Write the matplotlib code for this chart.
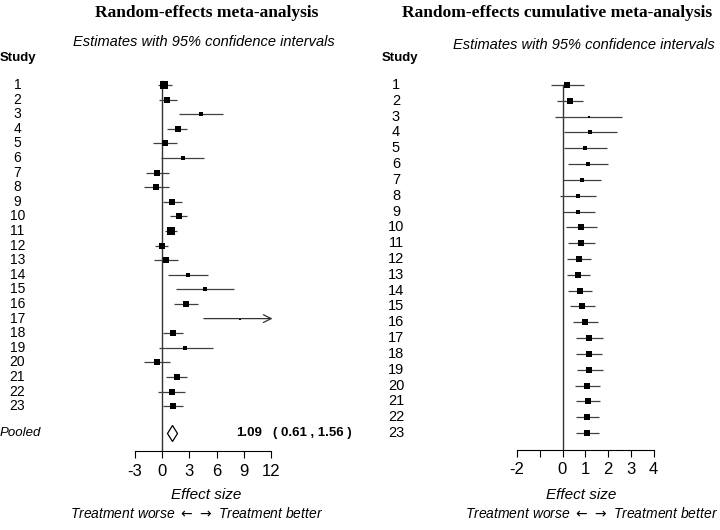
import numpy as np
import matplotlib
matplotlib.use("Agg")
import matplotlib.pyplot as plt

plt.rcParams['font.family'] = ['Liberation Sans', 'DejaVu Sans']
plt.rcParams['axes.unicode_minus'] = False

# per-study estimates (random-effects meta-analysis)
studies = [str(i) for i in range(1, 24)]
est = [0.25, 0.58, 4.3, 1.72, 0.33, 2.27, -0.51, -0.62, 1.1, 1.83, 0.95, -0.04,
       0.4, 2.9, 4.76, 2.67, 8.57, 1.17, 2.56, -0.59, 1.6, 1.06, 1.17]
lo = [-0.4, -0.3, 1.9, 0.58, -1.0, -0.07, -1.76, -2.0, 0.1, 0.92, 0.37, -0.77,
      -0.88, 0.7, 1.57, 1.35, 4.6, 0.1, -0.37, -1.94, 0.44, -0.4, 0.1]
hi = [1.06, 1.6, 6.7, 2.8, 1.6, 4.6, 0.73, 0.77, 2.2, 2.8, 1.68, 0.7,
      1.8, 5.1, 7.95, 4.0, 12.6, 2.27, 5.57, 0.84, 2.8, 2.5, 2.27]
box = [5.5, 5, 3, 5, 4.5, 3, 5, 5, 5, 5, 5.5, 4.5, 5, 3, 2.5, 5, 2, 5, 2.5, 5, 5, 5, 5]
pooled = 1.09
pooled_lo = 0.61
pooled_hi = 1.56

# cumulative meta-analysis
cum_est = [0.2, 0.32, 1.15, 1.22, 0.99, 1.1, 0.86, 0.67, 0.69, 0.81, 0.81, 0.71,
           0.68, 0.77, 0.87, 1.0, 1.18, 1.15, 1.18, 1.09, 1.1, 1.09, 1.09]
cum_lo = [-0.52, -0.26, -0.33, 0.08, 0.07, 0.23, 0.01, -0.12, 0.01, 0.17, 0.25, 0.18,
          0.2, 0.25, 0.34, 0.46, 0.58, 0.59, 0.64, 0.55, 0.59, 0.59, 0.61]
cum_hi = [0.93, 0.89, 2.61, 2.39, 1.94, 2.0, 1.69, 1.47, 1.41, 1.51, 1.41, 1.26,
          1.21, 1.29, 1.43, 1.54, 1.79, 1.73, 1.76, 1.64, 1.64, 1.6, 1.59]
cum_box = [4, 5, 2, 2.5, 3, 3, 3.5, 3.5, 3.5, 4.5, 4.5, 5, 5, 5, 5, 5, 5, 5, 5, 5, 5, 5, 5]

left_ticks = [-3, 0, 3, 6, 9, 12]
right_ticks = [-2, -1, 0, 1, 2, 3, 4]
right_ticklabels = ['-2', '', '0', '1', '2', '3', '4']

W, H = 720, 530
fig = plt.figure(figsize=(7.2, 5.3), dpi=100)


def ftext(x, y, s, **kw):
    fig.text(x / W, 1 - y / H, s, **kw)


def make_axes(x0, x1, ytop, ybot, zero_px, px_per_unit, row1_px, row_px):
    ax = fig.add_axes([x0 / W, 1 - ybot / H, (x1 - x0) / W, (ybot - ytop) / H])
    ax.set_xlim((x0 - zero_px) / px_per_unit, (x1 - zero_px) / px_per_unit)
    ax.set_ylim(1 + (ybot - row1_px) / row_px, 1 - (row1_px - ytop) / row_px)
    for s in ['top', 'right', 'left']:
        ax.spines[s].set_visible(False)
    ax.set_yticks([])
    ax.tick_params(axis='x', length=5, width=0.8, pad=4, labelsize=12)
    return ax


def draw_rows(ax, e, l, h, sz, xmax):
    y = np.arange(1, len(e) + 1)
    for yi, ei, li, hi_, si in zip(y, e, l, h, sz):
        if hi_ > xmax:
            ax.annotate('', xy=(xmax + 0.15, yi), xytext=(li, yi),
                        arrowprops=dict(arrowstyle='->', color='#333333', lw=0.9,
                                        mutation_scale=14, shrinkA=0, shrinkB=0))
        else:
            ax.plot([li, hi_], [yi, yi], color='#404040', lw=0.9, solid_capstyle='butt')
        ax.plot(ei, yi, marker='s', color='black', ms=si * 0.95, mew=0)


# left panel
axl = make_axes(0, 355, 70, 451, 162, 9.1, 85, 14.6)
axl.axvline(0, ymin=0, ymax=0.97, color='#333333', lw=1)
draw_rows(axl, est, lo, hi, box, max(left_ticks))
pooled_y = 24.85
axl.plot(pooled, pooled_y, marker='d', ms=8.5, mfc='white', mec='black', mew=0.9)
axl.set_xticks(left_ticks)
axl.spines['bottom'].set_bounds(left_ticks[0], left_ticks[-1])

# right panel
axr = make_axes(360, 720, 70, 450, 562.5, 22.8, 85, 15.82)
axr.axvline(0, ymin=0, ymax=0.96, color='#333333', lw=1)
draw_rows(axr, cum_est, cum_lo, cum_hi, cum_box, max(right_ticks))
axr.set_xticks(right_ticks)
axr.set_xticklabels(right_ticklabels)
axr.spines['bottom'].set_bounds(right_ticks[0], right_ticks[-1])

# study labels
for i, s in enumerate(studies):
    ftext(17.5, 85 + i * 14.6, s, ha='center', va='center', fontsize=10)
    ftext(396, 85 + i * 15.82, s, ha='center', va='center', fontsize=10.5)

ftext(0, 433, 'Pooled', ha='left', va='center', fontsize=9.5, style='italic')
ftext(236, 433, f'{pooled:.2f}', ha='left', va='center', fontsize=9.5, weight='bold')
ftext(273, 433, f'( {pooled_lo:.2f} , {pooled_hi:.2f} )', ha='left', va='center',
      fontsize=9.5, weight='bold')

# titles
ftext(207, 13, 'Random-effects meta-analysis', ha='center', va='center',
      family='Liberation Serif', weight='bold', fontsize=12.5)
ftext(557, 13, 'Random-effects cumulative meta-analysis', ha='center', va='center',
      family='Liberation Serif', weight='bold', fontsize=12.5)
ftext(204, 42, 'Estimates with 95% confidence intervals', ha='center', va='center',
      style='italic', fontsize=10.5)
ftext(584, 45, 'Estimates with 95% confidence intervals', ha='center', va='center',
      style='italic', fontsize=10.5)
ftext(0, 58, 'Study', ha='left', va='center', weight='bold', fontsize=9.5)
ftext(382, 58, 'Study', ha='left', va='center', weight='bold', fontsize=9.5)

# axis captions
caption = r'Treatment worse $\leftarrow$$\,$$\rightarrow$ Treatment better'
ftext(206, 495, 'Effect size', ha='center', va='center', style='italic', fontsize=11)
ftext(581, 495, 'Effect size', ha='center', va='center', style='italic', fontsize=11)
ftext(197, 514, caption, ha='center', va='center', style='italic', fontsize=10)
ftext(592, 514, caption, ha='center', va='center', style='italic', fontsize=10)

fig.savefig('out.png', dpi=100)
